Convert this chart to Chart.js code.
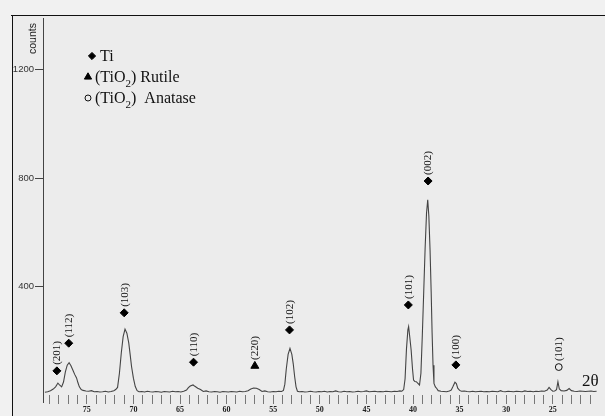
<!DOCTYPE html>
<html><head><meta charset="utf-8">
<script src="https://cdn.jsdelivr.net/npm/chart.js@4.4.1/dist/chart.umd.min.js"></script>
<style>html,body{margin:0;padding:0;background:#f0f0f0;}#wrap{width:605px;height:416px;position:relative}</style>
</head><body><div id="wrap"><canvas id="c" width="605" height="416"></canvas></div>
<script>
// ---- spectrum (2θ in degrees, intensity in counts) ----
const twoTheta = [79.5,79.2,78.9,78.6,78.35,78.1,77.9,77.7,77.5,77.3,77.1,76.9,76.7,76.5,76.3,76.1,75.95,75.8,75.6,75.4,75.1,74.8,74.5,74.2,73.9,73.6,73.3,73.0,72.7,72.4,72.1,71.9,71.7,71.5,71.3,71.1,70.9,70.7,70.5,70.35,70.2,70.0,69.8,69.6,69.4,69.1,68.8,68.5,68.2,67.9,67.6,67.3,67.0,66.7,66.4,66.1,65.8,65.5,65.2,64.9,64.6,64.3,64.1,63.9,63.6,63.4,63.1,62.8,62.5,62.2,61.9,61.6,61.3,61.0,60.7,60.4,60.1,59.8,59.5,59.2,58.9,58.6,58.3,58.0,57.7,57.4,57.1,56.8,56.5,56.2,55.9,55.6,55.3,55.0,54.7,54.4,54.1,53.9,53.75,53.6,53.4,53.2,53.0,52.85,52.7,52.55,52.4,52.2,51.9,51.6,51.3,51.0,50.7,50.4,50.1,49.8,49.5,49.2,48.9,48.6,48.3,48.0,47.7,47.4,47.1,46.8,46.5,46.2,45.9,45.6,45.3,45.0,44.7,44.4,44.1,43.8,43.5,43.2,42.9,42.6,42.3,42.0,41.7,41.4,41.2,41.0,40.85,40.7,40.55,40.47,40.35,40.2,40.05,39.94,39.8,39.65,39.5,39.3,39.15,39.0,38.85,38.7,38.55,38.42,38.3,38.17,38.05,37.95,37.85,37.75,37.6,37.45,37.3,37.0,36.7,36.4,36.1,35.9,35.7,35.5,35.35,35.2,35.0,34.8,34.5,34.2,33.9,33.6,33.3,33.0,32.7,32.4,32.1,31.8,31.5,31.2,30.9,30.6,30.4,30.1,29.8,29.5,29.2,28.9,28.6,28.3,28.0,27.7,27.4,27.1,26.8,26.5,26.2,25.9,25.6,25.4,25.2,25.0,24.8,24.6,24.45,24.3,24.1,23.8,23.5,23.25,23.0,22.7,22.4,22.1,21.8,21.5,21.2,20.9,20.6,20.3];
const counts = [10,12,16,22,30,44,36,30,48,85,110,119,108,92,76,63,45,30,20,17,15,14,16,12,13,11,12,14,11,13,16,20,28,80,155,215,243,228,192,150,105,62,31,16,12,13,11,14,12,11,13,12,10,13,12,11,14,12,13,11,14,18,27,33,37,32,25,20,13,15,12,11,13,12,10,13,12,11,13,12,11,14,12,13,16,22,26,25,20,13,15,12,11,13,12,14,13,17,40,95,150,172,150,115,68,30,14,12,13,11,12,14,12,11,13,12,14,11,13,12,15,12,11,14,12,13,11,12,14,12,13,15,12,13,14,12,13,12,14,13,12,14,13,15,14,20,60,170,240,252,215,166,95,55,50,49,44,37,80,220,380,540,670,720,660,535,380,229,110,43,30,24,16,14,13,12,15,18,32,47,42,25,17,14,15,13,12,14,12,13,14,12,13,12,14,13,12,16,13,12,14,13,12,14,13,12,15,13,14,12,14,13,15,14,18,28,20,14,15,20,49,22,16,15,17,24,16,14,13,15,14,13,14,15,13,14];

// ---- peak markers ----
const markerTheta  = [78.21, 76.94, 70.99, 63.55, 56.97, 53.25, 40.5, 38.38, 35.4, 24.36];
const markerCounts = [89, 191, 303, 121, 107, 240, 332, 789, 111, 103];
const markerLabels = ['(201)','(112)','(103)','(110)','(220)','(102)','(101)','(002)','(100)','(101)'];
const markerPhase  = ['Ti','Ti','Ti','Ti','Rutile','Ti','Ti','Ti','Ti','Anatase'];

// ---- axes ----
const xLabelValues = [75,70,65,60,55,50,45,40,35,30,25];
const yTickValues = [400,800,1200];
const xMin = 20, xMax = 79.7, yMin = 0, yMax = 1390;

// ---- legend ----
const legendPhases = ['Ti','Rutile','Anatase'];
const legendPrefix = ['Ti','(TiO','(TiO'];
const legendSub = ['','2','2'];
const legendSuffix = ['',') Rutile',')  Anatase'];

const phaseStyle = {
  Ti: {pointStyle:'rectRot', radius:4, backgroundColor:'#000', borderColor:'#000'},
  Rutile: {pointStyle:'triangle', radius:4.6, backgroundColor:'#000', borderColor:'#000'},
  Anatase: {pointStyle:'circle', radius:3.4, backgroundColor:'#ececec', borderColor:'#111'}
};

const spectrum = twoTheta.map((t,i)=>({x:t,y:counts[i]}));
const markerSets = legendPhases.map(ph => {
  const pts = [];
  markerTheta.forEach((t,i)=>{ if(markerPhase[i]===ph) pts.push({x:t,y:markerCounts[i]}); });
  const st = phaseStyle[ph];
  return {label:ph, data:pts, showLine:false, pointStyle:st.pointStyle, pointRadius:st.radius,
    pointBackgroundColor:st.backgroundColor, pointBorderColor:st.borderColor, pointBorderWidth:1, pointHoverRadius:st.radius};
});

const deco = {
  id:'deco',
  beforeDraw(chart){
    const ctx = chart.ctx;
    ctx.save();
    ctx.fillStyle = '#f1f1f1';
    ctx.fillRect(0,0,chart.width,chart.height);
    ctx.fillStyle = '#ececec';
    ctx.fillRect(12,15,chart.width-12,chart.height-15);
    ctx.strokeStyle = '#111';
    ctx.lineWidth = 1;
    ctx.beginPath();
    ctx.moveTo(11,15.5); ctx.lineTo(chart.width,15.5);
    ctx.moveTo(12.5,15); ctx.lineTo(12.5,chart.height);
    ctx.stroke();
    ctx.restore();
  },
  afterDraw(chart){
    const ctx = chart.ctx;
    const xs = chart.scales.x, ys = chart.scales.y;
    ctx.save();
    ctx.strokeStyle = '#444'; ctx.lineWidth = 1;
    ctx.beginPath(); ctx.moveTo(43.5, chart.chartArea.bottom); ctx.lineTo(43.5, chart.chartArea.bottom+8); ctx.stroke();
    // peak labels
    ctx.fillStyle = '#111';
    ctx.font = '11px "Liberation Serif", serif';
    ctx.textAlign = 'left'; ctx.textBaseline = 'middle';
    markerTheta.forEach((t,i)=>{
      const px = xs.getPixelForValue(t), py = ys.getPixelForValue(markerCounts[i]);
      ctx.save();
      ctx.translate(px+0.5, py-6);
      ctx.rotate(-Math.PI/2);
      ctx.fillText(markerLabels[i], 0, 0);
      ctx.restore();
    });
    // "counts" title
    ctx.save();
    ctx.font = '10.5px "Liberation Sans", Arial, sans-serif';
    ctx.fillStyle = '#222';
    ctx.translate(33, 38.5); ctx.rotate(-Math.PI/2);
    ctx.textAlign='center'; ctx.textBaseline='middle';
    ctx.fillText('counts',0,0);
    ctx.restore();
    // 2θ label
    ctx.font = '17px "Liberation Serif", serif';
    ctx.fillStyle = '#111';
    ctx.textAlign = 'left'; ctx.textBaseline = 'alphabetic';
    ctx.fillText('2θ', 582, 386);
    // legend
    const rows = [56, 77, 98];
    const mx = [92, 88, 88];
    const mr = [3.6, 4.2, 3];
    legendPhases.forEach((ph,i)=>{
      const st = phaseStyle[ph];
      ctx.fillStyle = st.backgroundColor; ctx.strokeStyle = st.borderColor; ctx.lineWidth = 1;
      Chart.helpers.drawPoint(ctx, {pointStyle:st.pointStyle, radius: mr[i], borderWidth:1, rotation:0}, mx[i], rows[i]);
      ctx.fillStyle = '#111';
      ctx.font = '16px "Liberation Serif", serif';
      ctx.textBaseline = 'middle'; ctx.textAlign='left';
      let x = ph==='Ti' ? 100 : 95;
      ctx.fillText(legendPrefix[i], x, rows[i]+1);
      x += ctx.measureText(legendPrefix[i]).width;
      if (legendSub[i]) {
        ctx.font = '11px "Liberation Serif", serif';
        ctx.fillText(legendSub[i], x, rows[i]+7);
        x += ctx.measureText(legendSub[i]).width;
        ctx.font = '16px "Liberation Serif", serif';
        ctx.fillText(legendSuffix[i], x, rows[i]+1);
      }
    });
    ctx.restore();
  }
};

new Chart(document.getElementById('c'), {
  type:'scatter',
  data:{datasets:[
    {label:'XRD', data:spectrum, showLine:true, borderColor:'#444', borderWidth:1.1, pointRadius:0, tension:0, fill:false},
    ...markerSets
  ]},
  options:{
    responsive:false, animation:false, devicePixelRatio:1,
    layout:{padding:{top:18,left:0,right:0,bottom:0}},
    plugins:{legend:{display:false}, tooltip:{enabled:false}},
    scales:{
      x:{type:'linear', reverse:true, min:xMin, max:xMax, position:'bottom',
        afterBuildTicks(s){ const t=[]; for(let v=21; v<=79; v++) t.push({value:v}); s.ticks=t; },
        afterFit(s){ s.height = 21; },
        ticks:{autoSkip:false, maxRotation:0, padding:1, color:'#222',
          font:{family:'"Liberation Serif", serif', size:8, weight:'bold'},
          callback(v){ return xLabelValues.includes(v) ? String(v) : ''; }},
        grid:{drawOnChartArea:false, drawTicks:true, tickLength:9, color:'#777', lineWidth:1},
        border:{display:false}
      },
      y:{type:'linear', min:yMin, max:yMax, position:'left',
        afterBuildTicks(s){ s.ticks = yTickValues.map(v=>({value:v})); },
        afterFit(s){ s.width = 43; },
        ticks:{padding:1, color:'#333', font:{family:'"Liberation Sans", Arial, sans-serif', size:9.5},
          callback(v){ return String(v); }},
        grid:{drawOnChartArea:false, drawTicks:true, tickLength:8, color:'#444', lineWidth:1},
        border:{display:true, color:'#444', width:1}
      }
    }
  },
  plugins:[deco]
});
</script></body></html>
